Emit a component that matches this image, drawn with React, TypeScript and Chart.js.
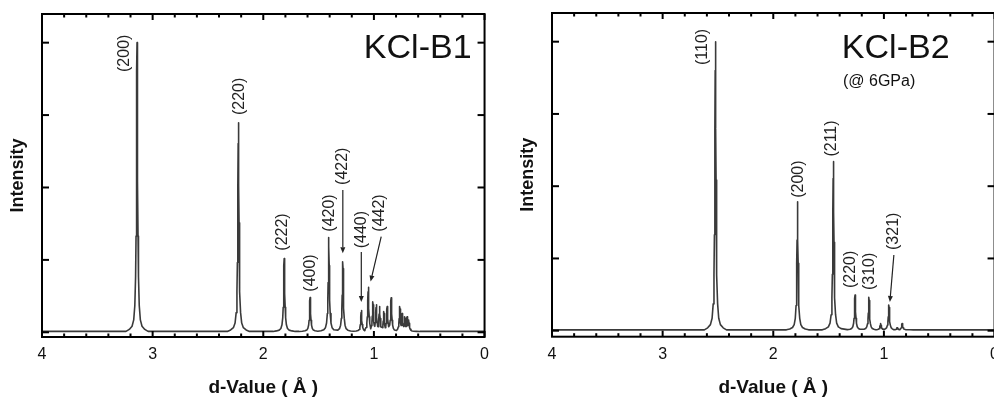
import React, { useEffect, useRef } from 'react';
import { Chart, registerables } from 'chart.js';

Chart.register(...registerables);

const FONT = '"Liberation Sans", Arial, Helvetica, sans-serif';

// ---------- shared axis data ----------
const X_MAJOR_TICKS = [0, 1, 2, 3, 4];
const X_MINOR_TICKS = [0.2, 0.4, 0.6, 0.8, 1.2, 1.4, 1.6, 1.8, 2.2, 2.4, 2.6, 2.8, 3.2, 3.4, 3.6, 3.8];
const Y_TICKS = [0, 1, 2, 3, 4];

const PROFILE_OFFSET = [0, 0.002, 0.004, 0.006, 0.009, 0.013, 0.02, 0.03, 0.045, 0.07, 0.1];
const PROFILE_FRACTION = [1, 0.9, 0.7, 0.52, 0.33, 0.19, 0.09, 0.04, 0.018, 0.007, 0];
const BASELINE = 0.012;

// ---------- KCl-B1 ----------
const B1_PEAK_D = [3.141, 2.225, 1.811, 1.577, 1.408, 1.281, 1.114, 1.051, 1.009, 0.979, 0.949, 0.91, 0.88, 0.844, 0.766, 0.745, 0.721, 0.7, 0.685];
const B1_PEAK_I = [4.0, 2.895, 1.02, 0.48, 1.31, 0.975, 0.3, 0.62, 0.42, 0.38, 0.355, 0.285, 0.355, 0.477, 0.355, 0.26, 0.215, 0.215, 0.17];
const B1_LABELS = ['(200)', '(220)', '(222)', '(400)', '(420)', '(422)', '(440)', '(442)'];
const B1_LABEL_D = [3.252, 2.216, 1.826, 1.57, 1.405, 1.281, 1.114, 0.949];
const B1_LABEL_I = [3.595, 3.0, 1.127, 0.561, 1.39, 2.035, 1.16, 1.39];
const B1_ARROW_FROM_D = [1.281, 1.114, 0.934];
const B1_ARROW_FROM_I = [1.965, 1.11, 1.32];
const B1_ARROW_TO_D = [1.281, 1.114, 1.03];
const B1_ARROW_TO_I = [1.09, 0.42, 0.7];

// ---------- KCl-B2 ----------
const B2_PEAK_D = [2.523, 1.781, 1.457, 1.261, 1.135, 1.03, 0.955, 0.88, 0.835];
const B2_PEAK_I = [4.0, 1.785, 2.34, 0.494, 0.462, 0.1, 0.356, 0.04, 0.1];
const B2_LABELS = ['(110)', '(200)', '(211)', '(220)', '(310)', '(321)'];
const B2_LABEL_D = [2.637, 1.77, 1.477, 1.297, 1.126, 0.91];
const B2_LABEL_I = [3.677, 1.84, 2.41, 0.59, 0.563, 1.117];
const B2_ARROW_FROM_D = [0.91];
const B2_ARROW_FROM_I = [1.048];
const B2_ARROW_TO_D = [0.946];
const B2_ARROW_TO_I = [0.397];

function buildCurve(ds: number[], hs: number[]) {
  const pts: { x: number; y: number }[] = [{ x: 4, y: BASELINE }];
  const n = ds.length;
  for (let i = 0; i < n; i++) {
    const d = ds[i];
    const h = hs[i] - BASELINE;
    const hiLim = i === 0 ? Infinity : (ds[i - 1] - d) / 2;
    const loLim = i === n - 1 ? Infinity : (d - ds[i + 1]) / 2;
    for (let k = PROFILE_OFFSET.length - 1; k >= 1; k--) {
      if (PROFILE_OFFSET[k] < hiLim) pts.push({ x: d + PROFILE_OFFSET[k], y: BASELINE + h * PROFILE_FRACTION[k] });
    }
    pts.push({ x: d, y: BASELINE + h });
    for (let k = 1; k < PROFILE_OFFSET.length; k++) {
      if (PROFILE_OFFSET[k] < loLim) pts.push({ x: d - PROFILE_OFFSET[k], y: BASELINE + h * PROFILE_FRACTION[k] });
    }
  }
  pts.push({ x: 0, y: BASELINE });
  return pts;
}

type PanelCfg = {
  peakD: number[]; peakI: number[];
  labels: string[]; labelD: number[]; labelI: number[];
  arrowFromD: number[]; arrowFromI: number[]; arrowToD: number[]; arrowToI: number[];
  title: string; subtitle?: string;
  yMin: number; yMax: number; padTop: number; xHeight: number;
  titleRightInset: number; titleBaseline: number;
  subLeft?: number; subBaseline?: number;
};

function line(ctx: CanvasRenderingContext2D, x1: number, y1: number, x2: number, y2: number) {
  ctx.beginPath();
  ctx.moveTo(x1, y1);
  ctx.lineTo(x2, y2);
  ctx.stroke();
}

function makePlugin(cfg: PanelCfg) {
  return {
    id: 'decor',
    afterDatasetsDraw(chart: any) {
      const ctx: CanvasRenderingContext2D = chart.ctx;
      const xs = chart.scales.x;
      const ys = chart.scales.y;
      const { left, right, top, bottom } = chart.chartArea;
      ctx.save();
      // frame
      ctx.strokeStyle = '#000';
      ctx.lineWidth = 2;
      ctx.strokeRect(left, top, right - left, bottom - top);
      // x ticks (inward, top & bottom)
      X_MAJOR_TICKS.forEach((v) => {
        const p = xs.getPixelForValue(v);
        line(ctx, p, bottom, p, bottom - 6);
        line(ctx, p, top, p, top + 6);
      });
      X_MINOR_TICKS.forEach((v) => {
        const p = xs.getPixelForValue(v);
        line(ctx, p, bottom, p, bottom - 3.5);
        line(ctx, p, top, p, top + 3.5);
      });
      Y_TICKS.forEach((v) => {
        const p = ys.getPixelForValue(v);
        line(ctx, left, p, left + 7, p);
        line(ctx, right, p, right - 7, p);
      });
      // peak labels
      ctx.fillStyle = '#222';
      ctx.font = `16px ${FONT}`;
      cfg.labels.forEach((t, i) => {
        const x = xs.getPixelForValue(cfg.labelD[i]);
        const y = ys.getPixelForValue(cfg.labelI[i]);
        ctx.save();
        ctx.translate(x, y);
        ctx.rotate(-Math.PI / 2);
        ctx.textAlign = 'left';
        ctx.textBaseline = 'middle';
        ctx.fillText(t, 0, 0);
        ctx.restore();
      });
      // arrows
      ctx.strokeStyle = '#222';
      ctx.lineWidth = 1.2;
      cfg.arrowFromD.forEach((_, i) => {
        const x1 = xs.getPixelForValue(cfg.arrowFromD[i]);
        const y1 = ys.getPixelForValue(cfg.arrowFromI[i]);
        const x2 = xs.getPixelForValue(cfg.arrowToD[i]);
        const y2 = ys.getPixelForValue(cfg.arrowToI[i]);
        const ang = Math.atan2(y2 - y1, x2 - x1);
        const hl = 6, hw = 2.5;
        const bx = x2 - hl * Math.cos(ang);
        const by = y2 - hl * Math.sin(ang);
        line(ctx, x1, y1, bx, by);
        ctx.beginPath();
        ctx.moveTo(x2, y2);
        ctx.lineTo(bx + hw * Math.sin(ang), by - hw * Math.cos(ang));
        ctx.lineTo(bx - hw * Math.sin(ang), by + hw * Math.cos(ang));
        ctx.closePath();
        ctx.fill();
      });
      // panel title
      ctx.fillStyle = '#111';
      ctx.font = `34px ${FONT}`;
      ctx.textAlign = 'right';
      ctx.textBaseline = 'alphabetic';
      ctx.fillText(cfg.title, right - cfg.titleRightInset, top + cfg.titleBaseline);
      if (cfg.subtitle) {
        ctx.font = `16px ${FONT}`;
        ctx.textAlign = 'left';
        ctx.fillText(cfg.subtitle, left + (cfg.subLeft || 0), top + (cfg.subBaseline || 0));
      }
      ctx.restore();
    },
  };
}

function Panel({ cfg, left }: { cfg: PanelCfg; left: number }) {
  const ref = useRef<HTMLCanvasElement | null>(null);
  useEffect(() => {
    if (!ref.current) return;
    const chart = new Chart(ref.current, {
      type: 'line',
      data: {
        datasets: [
          {
            data: buildCurve(cfg.peakD, cfg.peakI),
            borderColor: '#3a3a3a',
            borderWidth: 1.6,
            borderJoinStyle: 'round',
            pointRadius: 0,
            tension: 0,
            fill: false,
          } as any,
        ],
      },
      options: {
        responsive: false,
        animation: false,
        devicePixelRatio: 1,
        layout: { padding: { left: 0, right: 11, top: cfg.padTop, bottom: 0 } },
        plugins: { legend: { display: false }, tooltip: { enabled: false } },
        scales: {
          x: {
            type: 'linear',
            min: 0,
            max: 4,
            reverse: true,
            grid: { display: false, drawTicks: false },
            border: { display: false },
            ticks: {
              stepSize: 1,
              autoSkip: false,
              maxRotation: 0,
              padding: 8,
              color: '#111',
              font: { size: 16, family: FONT },
              callback: (v: any) => String(v),
            },
            title: {
              display: true,
              text: 'd-Value ( Å )',
              color: '#111',
              font: { size: 19, weight: 'bold', family: FONT },
              padding: { top: 0, bottom: 0 },
            },
            afterFit: (s: any) => { s.height = cfg.xHeight; },
          },
          y: {
            type: 'linear',
            min: cfg.yMin,
            max: cfg.yMax,
            grid: { display: false, drawTicks: false },
            border: { display: false },
            ticks: { display: false },
            title: {
              display: true,
              text: 'Intensity',
              color: '#111',
              font: { size: 18, weight: 'bold', family: FONT },
              padding: { top: 7, bottom: 0 },
            },
            afterFit: (s: any) => { s.width = 42; },
          },
        },
      } as any,
      plugins: [makePlugin(cfg)],
    });
    return () => chart.destroy();
  }, [cfg]);
  return (
    <canvas
      ref={ref}
      width={497}
      height={399}
      style={{ position: 'absolute', left, top: 0, width: 497, height: 399 }}
    />
  );
}

const B1_CFG: PanelCfg = {
  peakD: B1_PEAK_D, peakI: B1_PEAK_I,
  labels: B1_LABELS, labelD: B1_LABEL_D, labelI: B1_LABEL_I,
  arrowFromD: B1_ARROW_FROM_D, arrowFromI: B1_ARROW_FROM_I, arrowToD: B1_ARROW_TO_D, arrowToI: B1_ARROW_TO_I,
  title: 'KCl-B1',
  yMin: -0.065, yMax: 4.396, padTop: 14, xHeight: 62,
  titleRightInset: 13, titleBaseline: 44,
};

const B2_CFG: PanelCfg = {
  peakD: B2_PEAK_D, peakI: B2_PEAK_I,
  labels: B2_LABELS, labelD: B2_LABEL_D, labelI: B2_LABEL_I,
  arrowFromD: B2_ARROW_FROM_D, arrowFromI: B2_ARROW_FROM_I, arrowToD: B2_ARROW_TO_D, arrowToI: B2_ARROW_TO_I,
  title: 'KCl-B2', subtitle: '(@ 6GPa)',
  yMin: -0.083, yMax: 4.397, padTop: 13, xHeight: 62.3,
  titleRightInset: 45, titleBaseline: 45,
  subLeft: 291, subBaseline: 73,
};

export default function App() {
  return (
    <div style={{ position: 'absolute', left: 0, top: 0, width: 994, height: 399, overflow: 'hidden', background: '#fff' }}>
      <Panel cfg={B1_CFG} left={0} />
      <Panel cfg={B2_CFG} left={510} />
    </div>
  );
}
